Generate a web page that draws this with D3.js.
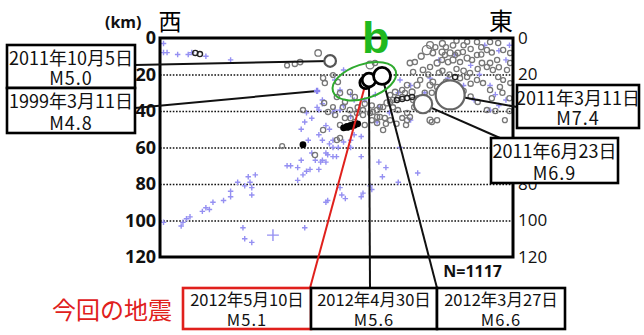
<!DOCTYPE html>
<html lang="ja">
<head>
<meta charset="utf-8">
<title>震源分布 断面図</title>
<script src="https://d3js.org/d3.v7.min.js"></script>
<style>
  body { margin: 0; background: #fff; }
  text { font-family: "Noto Sans CJK JP", "Noto Sans", sans-serif; }
</style>
</head>
<body>
<script>
// depth ticks (km)
const depthTicks = [0, 20, 40, 60, 80, 100, 120];
const rightTicks = [0, 20, 80, 100, 120];   // 40 and 60 sit under the boxes
const gridDepths = [20, 40, 60, 80, 100];
const totalCount = "N=1117";

// gray open circles: [east-west km, depth km, magnitude]
const grayQuakes = [
  [75.6,6.6,4.5],[76.5,3.8,4],[77.3,8.2,3.2],[79.9,7.7,3.5],[80.7,9.3,3],[82.2,8.2,3.5],[83.6,9.3,3],
  [84.4,8.2,3.2],[85.8,7.7,3],[87,11,3.5],[88.4,12,3],[89.8,9.3,3],[91.2,13.7,3.2],[92.6,15.9,3],
  [94.3,17.5,3],[95.8,21.4,3],[97.2,23,2.8],[99.2,24.7,2.8],[83,12,3.5],[85,13.2,3],[81.6,13.2,3.2],
  [79.9,12,3],[78.5,13.7,3.5],[76.5,15.9,3],[74.5,17.5,3.2],[71.7,18.6,3],[73.7,23,3],[70.8,13.7,3.2],
  [71.4,29.6,3.5],[69.4,30.1,3],[68.6,32.3,3],[67.4,32.9,3.2],[66,34,3],[65.2,35,3],[64.3,35.6,3.5],
  [63.2,37.8,3],[62.3,37.8,3],[61.5,39.5,3.2],[60.3,40.5,3],[59.5,41.1,3],[57.5,42.2,3],[55.8,41.1,3],
  [53.8,39.5,3.2],[51.8,37.8,3],[50.1,32.3,3],[49,37.8,2.8],[57.5,39.5,3],[62.3,43.3,3],[63.7,43.8,3],
  [67.4,39.5,3],[68.6,43.8,2.8],[70,41.1,3],[65.2,31.2,3],[66.6,29.6,3.2],[68.6,28.5,3],[76.5,25.8,3.5],
  [77.3,24.1,3.2],[78.5,26.8,3],[79.3,28.5,3],[72.8,25.8,3.5],[70,25.8,3.2],[71.7,34,3],[73.7,39.5,3],
  [76.5,45,3.5],[78.5,45,3],[87,21.4,3],[87.8,19.2,3.2],[89.8,23,3],[91.5,24.7,3],[93.5,28.5,3],
  [96.3,26.8,3],[92.6,6.6,3],[95.8,2.7,3],[97.2,6.6,3],[99.2,8.2,3],[99.2,13.7,3],[98.3,17.5,3],
  [93.5,13.7,3.2],[95.5,12,3],[89.8,2.2,3],[93.5,2.2,3],[51,30.1,3],[53.8,29.6,3],[52.4,35,3],
  [55.2,32.3,3],[59.5,14.8,4.2],[60.9,13.7,3],[50.4,24.1,3],[49,20.3,2.8],[46.2,50.4,3],[50.1,55.9,3],
  [51,54.8,3],[43.9,64.1,3],[40.5,39.5,3],[61.5,43.3,3],[61.5,46.6,3],[70,45,3],[70.8,43.3,3],
  [77,46,3],[92.6,39.5,3],[34.6,59.2,2.8],[46.5,35.6,3],[38.2,14.2,3],[39.7,13.2,3.2],[44.8,8.2,3.8],
  [46.2,21.9,3],[46.7,24.7,3],[97.7,45,2.8],[72.2,13.2,3],[84,1.5,3],[52.4,43.8,3],[55.2,46,3],
  [49.6,42.2,3],[58,47.7,3],[60,45,3],[47.6,40.5,3],[51,47.7,3],[63.2,50.4,3],[65.2,45,3],[69.7,47.7,3],
  [80,18,3],[82,20,3],[84,17,3],[86,18,3.2],[81,24,3],[84,26,3],[86,29,3],[88,32,3],[83,34,3],
  [90,35,3],[94,33,3],[97,30,3],[75,30,3],[73,33,3],[80,3,3.5],[86,4,3],[88,6,3],[91,9,3],[74,10,3.5],
  [76,20,3],[36,15,2.8],
  [78,5,3],[81,5,3],[83,4,3.2],[87,2,3],[91,5,3],[94,8,3],[96,16,3],[90,17,3],[88,25,3],[85,22,3],
  [79,19,3],[77,30,3],[80,32,3],[74,36,3],[72,38,3],[66,38,3],[60,37,3],[58,36,3],[56,38,3],[54,44,3],
  [64,47,3],[67,47,3],[95,40,3],[99,33,3],[99,40,3]
];

// dark outlined small circles
const darkQuakes = [
  [67.1,34,3],[68.6,33.4,3],[70,32.9,3],[71.4,32.3,3],[83.6,21.4,3],[10,8.2,3],[11.3,8.8,3]
];

// black filled events
const blackQuakes = [
  [40.5,58.5,4],[52,49.2,4],[53,48.7,4.2],[54,48.2,4.2],[55,47.6,4.2],[56,47,4]
];

// blue crosses (older events): [km, depth, magnitude]
const blueQuakes = [
  [1,3,3],[1,8,3],[2,8,3],[5,9,3],[8,9,3],[9,8,3],[13,10,3],[20,12,3],
  [46,34,3],[45,39.5,3],[43,44,3],[41,46,3],[40,50,3],[45,53,3],[42,56,3],
  [1,101,3],[6,103,3],[6.5,101,3],[7.5,99,3],[8.5,98,3],[12,95,3],[13,93,3],[14,94,3],[15,90,3],
  [18,89,3],[20,87,3],[20,84,3],[22,79,3],[24,81,3],[25,76,3],[25.5,79,3],[26,82,3],[26,86,3],
  [27,75,3],[23.5,104,3],[24,110,3],[26,112,3],[32,108,5.2],[36,70,3],[37,70,3],[39,71,3],[40,67,3],
  [39,78,3],[40.5,75,3],[41.5,73,3],[42.5,72,3],[41,104,3],[43,63,3],[44,67,3],[45,72,3],[45.5,68,3],
  [46,67,3],[47,68,3],[47.5,64,3],[50,65,3],[51,82,3],[51.5,86,3],[47,90,3],[47.5,89,3],[52.5,88,3],
  [49,60,3],[46,56,3],[48,58,3],[49,56,3],[50.5,60,3],[52,57,3],[54,56,3],[55,53,3],[57,54,3],
  [47,63,3],[62,68,3],[64,71,3],[63,76,3],[68,60,3],[73,74,3],[67.5,79,3],[59.5,81,3],[60,83,3],
  [57.5,85,3],[57,87,3],[41.5,41,3],[44.5,38,3],[46,36,3],[49,41,3],[51,39.5,3],[54,43,3],
  [54,60,3],[49,65,3],[57,65,3],[61.5,46,3],[62,38,3],[65,41,3],[71,45,3],
  [79,12,3],[83.5,9,3],[88,15,3],[90.5,20,3],[93.5,26,3],[95,31,3],[98,34,3],[98,12,3],[96,7,3],
  [92,4,3],[99,4,3],[86,26,3],[85,31,3],[81,34,3],[75,30,3],[71,26,3],[68,23,3],[76.5,22,3],
  [81.5,22,3],[89,34,3],[96,37,3],[93.5,39.5,3],[51,28.5,3],[54,31,3],[55,34,3],[52,37,3],[58,34,3],
  [61,31,3],[67.5,30,3],[49.5,23,3],[52,17.5,3],[49.5,39.5,3],[47,48,3],[48,50,3]
];

// labelled events
const eventDates = ["2011年10月5日", "1999年3月11日", "2011年3月11日", "2011年6月23日",
                    "2012年5月10日", "2012年4月30日", "2012年3月27日"];
const eventMagLabels = ["M5.0", "M4.8", "M7.4", "M6.9", "M5.1", "M5.6", "M6.6"];
const eventMags = [5.0, 4.8, 7.4, 6.9, 5.1, 5.6, 6.6];
const eventKm = [48.2, 44.5, 82.2, 74.5, 58.3, 59.2, 62.9];
const eventDepth = [12.6, 29, 31.2, 36.2, 24.5, 23, 20.8];

const width = 644, height = 335;
const plot = { left: 160, right: 513, top: 38, bottom: 257 };

const svg = d3.select("body").append("svg")
  .attr("width", width).attr("height", height);

const x = d3.scaleLinear().domain([0, 100]).range([plot.left, plot.right]);
const y = d3.scaleLinear().domain([0, 120]).range([plot.top, plot.bottom]);
const r = d3.scaleLinear().domain([2, 4, 5, 6.6, 6.9, 7.4]).range([1.8, 3.4, 5.8, 8.5, 9.2, 14.5]);

// dotted grid
svg.append("g")
  .attr("transform", `translate(${plot.left},0)`)
  .call(d3.axisLeft(y).tickValues(gridDepths).tickSize(-(plot.right - plot.left)).tickFormat(""))
  .call(g => g.select(".domain").remove())
  .call(g => g.selectAll("line").attr("stroke", "#111").attr("stroke-width", 1.6).attr("stroke-dasharray", "1.6,1.6"));

// left depth labels (bold)
svg.append("g")
  .attr("transform", `translate(${plot.left - 4},0)`)
  .call(d3.axisLeft(y).tickValues(depthTicks).tickSize(0).tickPadding(0))
  .call(g => g.select(".domain").remove())
  .call(g => g.selectAll("text").attr("font-size", 18).attr("font-weight", "bold")
    .attr("fill", "#111").style("font-family", "'Open Sans', 'Liberation Sans', sans-serif"));

// right depth labels
svg.append("g")
  .attr("transform", `translate(${plot.right + 5},0)`)
  .call(d3.axisRight(y).tickValues(rightTicks).tickSize(0).tickPadding(0))
  .call(g => g.select(".domain").remove())
  .call(g => g.selectAll("text").attr("font-size", 17)
    .attr("fill", "#111").style("font-family", "'Open Sans', 'Liberation Sans', sans-serif"));

// blue crosses
const plus = d => { const s = r(d[2]) * 0.9 + 0.4; return `M${-s},0H${s}M0,${-s}V${s}`; };
svg.append("g").selectAll("path").data(blueQuakes).join("path")
  .attr("transform", d => `translate(${x(d[0])},${y(d[1])})`)
  .attr("d", plus)
  .attr("stroke", "#9590f2").attr("stroke-width", 1.4).attr("fill", "none");

// gray open circles
svg.append("g").selectAll("circle").data(grayQuakes).join("circle")
  .attr("cx", d => x(d[0])).attr("cy", d => y(d[1])).attr("r", d => r(d[2]))
  .attr("fill", "none").attr("stroke", "#777").attr("stroke-width", 1.3);

svg.append("g").selectAll("circle").data(darkQuakes).join("circle")
  .attr("cx", d => x(d[0])).attr("cy", d => y(d[1])).attr("r", d => r(d[2]))
  .attr("fill", "none").attr("stroke", "#222").attr("stroke-width", 1.4);

svg.append("g").selectAll("circle").data(blackQuakes).join("circle")
  .attr("cx", d => x(d[0])).attr("cy", d => y(d[1])).attr("r", d => r(d[2]))
  .attr("fill", "#000");

// frame
svg.append("rect")
  .attr("x", plot.left).attr("y", plot.top)
  .attr("width", plot.right - plot.left).attr("height", plot.bottom - plot.top)
  .attr("fill", "none").attr("stroke", "#000").attr("stroke-width", 3);

// label boxes (index matches event arrays)
const boxes = [
  { x: 7,   y: 45,  w: 128, h: 43, ax: 135, ay: 65,  color: "#000", fs: 18 },
  { x: 7,   y: 88,  w: 128, h: 45, ax: 135, ay: 108, color: "#000", fs: 18 },
  { x: 517, y: 85,  w: 122, h: 43, ax: 517, ay: 107, color: "#000", fs: 18 },
  { x: 491, y: 138, w: 127, h: 45, ax: 500, ay: 138, color: "#000", fs: 18 },
  { x: 183, y: 288, w: 128, h: 41, ax: 310, ay: 288, color: "#e0201c", fs: 16.5 },
  { x: 311, y: 288, w: 126, h: 41, ax: 370, ay: 288, color: "#000", fs: 16.5 },
  { x: 437, y: 288, w: 128, h: 41, ax: 437, ay: 288, color: "#000", fs: 16.5 }
];

// leader lines
svg.append("g").selectAll("line").data(boxes).join("line")
  .attr("x1", (b, i) => x(eventKm[i])).attr("y1", (b, i) => y(eventDepth[i]))
  .attr("x2", b => b.ax).attr("y2", b => b.ay)
  .attr("stroke", b => b.color === "#000" ? "#111" : "#e0201c").attr("stroke-width", 2);

// event circles (1999 event drawn as a cross)
const evIdx = [0, 2, 3, 4, 5, 6];
const evStroke = ["#555", null, "#666", "#666", "#000", "#000", "#000"];
svg.append("g").selectAll("circle").data(evIdx).join("circle")
  .attr("cx", i => x(eventKm[i])).attr("cy", i => y(eventDepth[i])).attr("r", i => r(eventMags[i]))
  .attr("fill", "#fff").attr("stroke", i => evStroke[i]).attr("stroke-width", i => i >= 4 ? 2.8 : 2.2);
svg.append("path")
  .attr("transform", `translate(${x(eventKm[1])},${y(eventDepth[1])})`)
  .attr("d", plus([0, 0, 3.6]))
  .attr("stroke", "#8a84f0").attr("stroke-width", 2.4);

// green ellipse + "b"
svg.append("ellipse")
  .attr("transform", `translate(${x(57.9)},${y(23.7)}) rotate(-18)`)
  .attr("rx", 33).attr("ry", 17)
  .attr("fill", "none").attr("stroke", "#2faa2f").attr("stroke-width", 2);
svg.append("text").attr("x", 362).attr("y", 53).text("b")
  .attr("font-size", 45).attr("font-weight", "bold").attr("fill", "#1fb81f")
  .style("font-family", "'Liberation Sans', Arial, sans-serif");

// boxes
const bg = svg.append("g").selectAll("g").data(boxes).join("g");
bg.append("rect")
  .attr("x", b => b.x).attr("y", b => b.y).attr("width", b => b.w).attr("height", b => b.h)
  .attr("fill", "#fff").attr("stroke", b => b.color).attr("stroke-width", 2.6);
bg.append("text")
  .attr("x", b => b.x + b.w / 2).attr("y", b => b.y + b.h * 0.27)
  .attr("text-anchor", "middle").attr("dominant-baseline", "central")
  .attr("font-size", b => b.fs).attr("fill", "#111")
  .text((b, i) => eventDates[i]);
bg.append("text")
  .attr("x", b => b.x + b.w / 2).attr("y", b => b.y + b.h * 0.75)
  .attr("text-anchor", "middle").attr("dominant-baseline", "central")
  .attr("font-size", b => b.fs).attr("fill", "#111").attr("letter-spacing", 1)
  .text((b, i) => eventMagLabels[i]);

// headings
svg.append("text").attr("x", 105).attr("y", 28).text("(km)")
  .attr("font-size", 16).attr("font-weight", "bold").attr("fill", "#111")
  .style("font-family", "'Open Sans', sans-serif");
svg.append("text").attr("x", 170).attr("y", 30).attr("text-anchor", "middle").text("西")
  .attr("font-size", 23).attr("fill", "#000");
svg.append("text").attr("x", 501).attr("y", 30).attr("text-anchor", "middle").text("東")
  .attr("font-size", 24).attr("fill", "#000");
svg.append("text").attr("x", 502).attr("y", 277).attr("text-anchor", "end").text(totalCount)
  .attr("font-size", 16).attr("font-weight", "bold").attr("fill", "#111")
  .style("font-family", "'Open Sans', sans-serif");
svg.append("text").attr("x", 112).attr("y", 308).attr("text-anchor", "middle")
  .attr("dominant-baseline", "central").text("今回の地震")
  .attr("font-size", 24).attr("fill", "#e0201c");
</script>
</body>
</html>
